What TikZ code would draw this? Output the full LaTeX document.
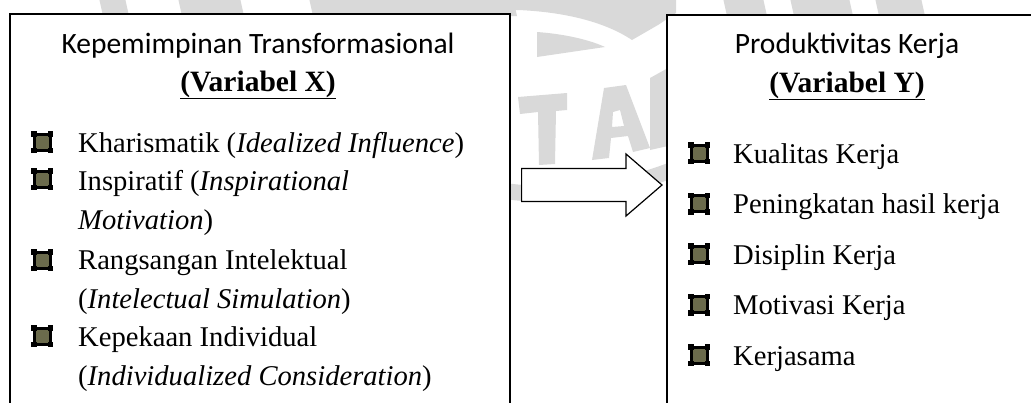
\documentclass[tikz,border=0pt]{standalone}
\usepackage{fontspec}
\setmainfont{Liberation Serif}
\newfontfamily\calibrifont{Carlito}
\usetikzlibrary{positioning}
\definecolor{Mark}{HTML}{D9D9D9}
\definecolor{BulletFill}{HTML}{6B6B4C}
\newcommand\itemfont{\fontsize{28.6}{39}\selectfont}
\newcommand\varfont{\fontsize{29.5}{36}\selectfont\bfseries}
\newcommand\headfont{\calibrifont\fontsize{29.5}{36}\selectfont}

\begin{document}
\begin{tikzpicture}[
  x=1pt,y=-1pt,
  box/.style={draw,line width=1.6pt,fill=white,inner sep=0pt,anchor=north west},
  head/.style={anchor=base,inner sep=0pt,font=\headfont},
  var/.style={anchor=base,inner sep=0pt,font=\varfont},
  item/.style={anchor=base west,inner sep=0pt,align=left,font=\itemfont},
  pics/bulletmark/.style={code={
    \fill[BulletFill] (-7,-7) rectangle (7,7);
    \draw[line width=3pt] (-8,-8) rectangle (8,8);
    \foreach \sx in {-1,1}
      \foreach \sy in {-1,1}
        \fill ({\sx*11},{\sy*11}) rectangle ({\sx*5.5},{\sy*5.5});
  }}
]
  \clip (0,0) rectangle (1031,402);
  % watermark behind the boxes
  \fill[Mark] (505,-2) -- (676,-2) -- (676,13) -- (658,25) -- (632,40)
    .. controls (605,22) and (565,12) .. (518,10) -- (505,10) -- cycle;
  \fill[Mark] (537,32) .. controls (565,34) and (590,40) .. (605,47) -- (537,57) -- cycle;
  \fill[Mark] (518,97) -- (567,93) -- (567,110) -- (556,111) -- (555,164)
    -- (539,165) -- (538,112) -- (520,114) -- cycle;
  \fill[Mark,even odd rule] (604,88) -- (626,85) -- (650,148) -- (633,152) -- (628,136)
    -- (611,138) -- (609,158) -- (592,160) -- cycle
    (613,112) -- (620,110) -- (624,126) -- (612,127) -- cycle;
  \fill[Mark] (650,78) -- (668,68) -- (668,146) -- (650,150) -- cycle;
  \draw[Mark,line width=16pt] (498,190) .. controls (560,200) and (620,190) .. (672,170);
  \foreach \a/\b in {99/125,178/240,309/513,723/763,790/849,875/921}
    \fill[Mark] (\a,-2) -- (\b,-2) -- (\b+4,16) -- (\a+4,16) -- cycle;

  % the two variables
  \node[box,minimum width=500pt,minimum height=420pt] (boxX) at (9,13) {};
  \node[box,minimum width=368pt,minimum height=420pt] (boxY) at (666,14) {};

  \node[head] (titleX) at (258,53) {Kepemimpinan Transformasional};
  \node[var] (varX) at (258,91) {\underline{(Variabel X)}};
  \node[item] (x1) at (78,152) {Kharismatik (\textit{Idealized Influence})};
  \node[item] (x2) at (78,229) {Inspiratif (\textit{Inspirational}\\\textit{Motivation})};
  \node[item] (x3) at (78,308) {Rangsangan Intelektual\\(\textit{Intelectual Simulation})};
  \node[item] (x4) at (78,385) {Kepekaan Individual\\(\textit{Individualized Consideration})};
  \foreach \y in {152,189,270,346}
    \pic at (42,\y-10) {bulletmark};

  \node[head] (titleY) at (847,53) {Produktivitas Kerja};
  \node[var] (varY) at (847,92) {\underline{(Variabel Y)}};
  \foreach \t [count=\i] in {Kualitas Kerja,Peningkatan hasil kerja,Disiplin Kerja,Motivasi Kerja,Kerjasama}{
    \node[item] (y\i) at (733,{163+50.5*(\i-1)}) {\t};
    \pic at (699,{153+50.5*(\i-1)}) {bulletmark};
  }

  % influence X -> Y
  \coordinate (tail) at (boxX.east |- 0,185);
  \coordinate (tip) at (boxY.west |- 0,185);
  \draw[fill=white,line width=1.2pt,line join=miter]
    ([xshift=11pt,yshift=16.5pt]tail) -- ([xshift=-40pt,yshift=16.5pt]tip)
    -- ([xshift=-40pt,yshift=31pt]tip) -- ([xshift=-4pt]tip)
    -- ([xshift=-40pt,yshift=-31pt]tip) -- ([xshift=-40pt,yshift=-16.5pt]tip)
    -- ([xshift=11pt,yshift=-16.5pt]tail) -- cycle;
\end{tikzpicture}
\end{document}
